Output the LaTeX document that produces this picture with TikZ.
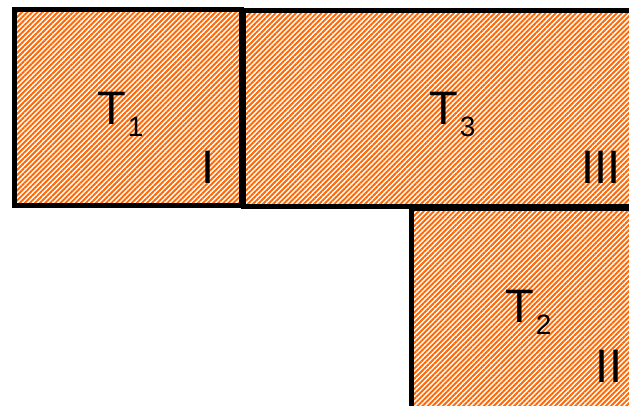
\documentclass[tikz,border=0pt]{standalone}
\usepackage{fontspec}
\setmainfont{Liberation Sans}
\usetikzlibrary{patterns.meta}
\definecolor{stripe}{RGB}{255,102,0}
\tikzset{
  region/.style={preaction={fill=white}, draw=black, line width=5pt,
    pattern={Lines[angle=45,distance=3.6pt,line width=1.9pt]}, pattern color=stripe},
  tlabel/.style={inner sep=0pt, anchor=base west, font=\fontsize{47}{47}\selectfont},
  rlabel/.style={inner sep=0pt, anchor=base, font=\fontsize{47}{47}\selectfont}
}
\newcommand{\tsub}[1]{T\kern2pt\raisebox{-12pt}{\fontsize{28}{28}\selectfont #1}}
\begin{document}
\begin{tikzpicture}[x=1pt,y=-1pt]
\useasboundingbox (0,0) rectangle (629,406);
\path[region] (14.5,9.5) rectangle (241,205.5);
\path[region] (243,10.5) rectangle (645,207);
\path[region] (411.5,209) rectangle (645,425);
\node[tlabel] (t1) at (97,125) {\tsub{1}};
\node[tlabel] (t3) at (429,125) {\tsub{3}};
\node[tlabel] (t2) at (505,322) {\tsub{2}};
\node[rlabel] (r1) at (208.5,184) {I};
\node[rlabel] (r3) at (601,184) {III};
\node[rlabel] (r2) at (609,382) {II};
\end{tikzpicture}
\end{document}
